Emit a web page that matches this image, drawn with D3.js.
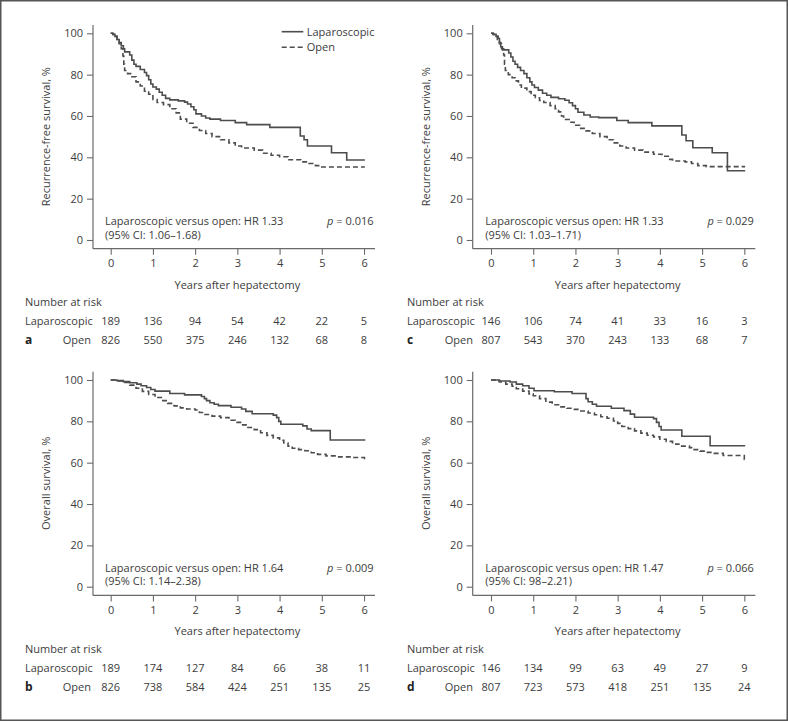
<!DOCTYPE html>
<html><head><meta charset="utf-8">
<script src="https://cdn.jsdelivr.net/npm/d3@7"></script>
<style>
body{margin:0;background:#fff;}
svg{display:block;font-family:"Open Sans","Noto Sans",sans-serif;}
</style></head>
<body><svg id="chart" width="788" height="722"></svg>
<script>
// ---------- DATA ----------
const years = [0,1,2,3,4,5,6];
const yTicks = [0,20,40,60,80,100];
const groups = ["Laparoscopic","Open"];

// Kaplan–Meier step points [years, survival %]
const lapA = [[0,100],[0.05,99.5],[0.1,98.5],[0.15,97],[0.2,95.5],[0.25,94],[0.3,92.5],[0.33,91],[0.45,89.5],[0.5,87],[0.55,85],[0.6,84],[0.7,82.5],[0.8,81],[0.85,79.5],[0.9,77.5],[0.95,75.5],[1.0,74],[1.08,73],[1.15,71.5],[1.22,70],[1.3,68.5],[1.4,67.8],[1.6,67.3],[1.75,66.7],[1.82,65.8],[1.9,64.5],[1.97,63],[2.02,61],[2.15,60],[2.25,59],[2.35,58.5],[2.6,57.8],[2.95,56.8],[3.22,55.8],[3.77,54.5],[4.49,50.3],[4.58,48.5],[4.66,45.5],[5.23,42.2],[5.59,38.7],[6.02,38.7]];
const openA = [[0,100],[0.05,99.5],[0.1,98.5],[0.15,97],[0.2,95],[0.25,92.5],[0.29,89],[0.31,85],[0.33,82],[0.4,80.5],[0.5,79],[0.6,76.5],[0.7,74.5],[0.8,72],[0.9,70.5],[1.0,68],[1.1,66.5],[1.25,65.5],[1.4,63.5],[1.55,61.5],[1.65,58.5],[1.8,56.5],[1.95,54.5],[2.1,53],[2.25,51.5],[2.4,50],[2.6,48.5],[2.8,47],[2.95,45.5],[3.1,44.5],[3.4,43.5],[3.6,42],[3.8,41],[4.0,40.3],[4.2,38.8],[4.5,37.8],[4.7,37],[4.85,36],[5.0,35.3],[6.02,35.3]];
const lapC = [[0,100],[0.05,99.5],[0.12,98.5],[0.17,97.5],[0.2,95.5],[0.23,93.5],[0.27,92],[0.42,90.5],[0.47,88.5],[0.52,86.5],[0.57,85],[0.63,83.5],[0.7,82],[0.78,80.5],[0.85,78.5],[0.92,76.5],[0.97,75],[1.03,73.8],[1.12,72.5],[1.22,71],[1.32,70],[1.42,69],[1.6,68.3],[1.75,67.6],[1.85,66.4],[1.93,65],[2.0,63.5],[2.06,61.8],[2.2,60.5],[2.35,59.5],[2.55,59.2],[2.98,57.8],[3.25,56.8],[3.81,55.2],[4.52,50.8],[4.62,48],[4.78,44.6],[5.24,42.2],[5.6,33.5],[6.02,33.5]];
const openC = [[0,100],[0.05,99.5],[0.1,98.5],[0.15,97],[0.2,95],[0.25,92.5],[0.3,89.5],[0.32,85],[0.34,82],[0.41,80],[0.5,78.5],[0.57,77],[0.65,75],[0.72,73.5],[0.85,71.8],[0.95,70],[1.05,68.8],[1.15,67.5],[1.25,66.5],[1.4,65],[1.52,63.5],[1.6,62],[1.67,60],[1.72,58.3],[1.85,57],[1.97,55.5],[2.1,54],[2.25,52.8],[2.4,51.5],[2.58,50],[2.75,48.5],[2.9,47],[3.05,45.5],[3.2,44.5],[3.4,43.5],[3.6,42.5],[3.85,41.5],[4.05,40.5],[4.2,39],[4.3,38.2],[4.6,37.8],[4.75,37],[4.9,36],[5.1,35.5],[6.02,35.5]];
const lapB = [[0,100],[0.15,99.7],[0.3,99.2],[0.45,98.7],[0.62,98],[0.72,97.2],[0.85,96.4],[0.95,95.4],[1.05,94.6],[1.4,93.5],[1.75,92.8],[2.15,92],[2.22,91],[2.27,90],[2.35,89],[2.45,88.3],[2.55,87.6],[2.85,86.8],[3.1,86],[3.2,84.8],[3.35,83.7],[3.85,83],[3.93,81.8],[3.98,80],[4.03,78.6],[4.55,77.8],[4.65,76.3],[4.75,75.5],[5.2,71],[6.03,71]];
const openB = [[0,100],[0.15,99.5],[0.3,98.8],[0.45,97.5],[0.6,96],[0.75,94.5],[0.9,93],[1.05,91.5],[1.2,90],[1.35,88.7],[1.5,87.5],[1.65,86.5],[1.8,86],[2.0,85.5],[2.1,84.3],[2.2,83.3],[2.4,82.5],[2.6,81.8],[2.8,80.5],[2.95,79.5],[3.1,78.3],[3.25,77],[3.4,76],[3.55,74.5],[3.7,73.2],[3.85,72],[4.0,70.8],[4.1,69.5],[4.2,68],[4.3,67],[4.45,66.3],[4.6,65.8],[4.75,64.8],[4.9,64],[5.1,63.3],[5.4,62.8],[5.7,62.5],[6.01,61.5],[6.03,61.5]];
const lapD = [[0,100],[0.2,99.5],[0.45,99],[0.6,98],[0.75,97.2],[0.9,96],[1.02,94.8],[1.5,94.3],[1.92,93.5],[2.25,91],[2.3,89.5],[2.4,88.3],[2.5,87.3],[2.85,86.3],[3.15,85.2],[3.3,83.5],[3.4,82],[3.85,81.3],[3.92,79.5],[3.98,77.5],[4.03,75.8],[4.52,72.8],[5.19,68.2],[6.02,68.2]];
const openD = [[0,100],[0.1,99.6],[0.2,99],[0.35,98],[0.5,97],[0.6,95.8],[0.75,94.6],[0.9,93.3],[1.0,92.4],[1.15,91],[1.3,89.3],[1.45,88],[1.6,87],[1.8,86.3],[1.95,85.8],[2.1,85],[2.3,84],[2.45,83.2],[2.6,82.2],[2.75,81.5],[2.9,80.2],[3.0,79],[3.1,77.5],[3.25,76.5],[3.4,75.4],[3.55,74.3],[3.7,73.3],[3.85,72.5],[4.0,71.3],[4.15,70.3],[4.3,69],[4.45,68],[4.7,67.3],[4.75,66.3],[4.95,65.6],[5.1,65],[5.27,64.5],[5.5,63.5],[6.0,61.6],[6.02,61.6]];

// Number at risk
const riskLapA = [189,136,94,54,42,22,5];
const riskOpenA = [826,550,375,246,132,68,8];
const riskLapC = [146,106,74,41,33,16,3];
const riskOpenC = [807,543,370,243,133,68,7];
const riskLapB = [189,174,127,84,66,38,11];
const riskOpenB = [826,738,584,424,251,135,25];
const riskLapD = [146,134,99,63,49,27,9];
const riskOpenD = [807,723,573,418,251,135,24];

const yTitles = ["Recurrence-free survival, %","Overall survival, %"];
const xTitle = "Years after hepatectomy";
const hrText = ["Laparoscopic versus open: HR 1.33","Laparoscopic versus open: HR 1.33","Laparoscopic versus open: HR 1.64","Laparoscopic versus open: HR 1.47"];
const ciText = ["(95% CI: 1.06–1.68)","(95% CI: 1.03–1.71)","(95% CI: 1.14–2.38)","(95% CI: 98–2.21)"];
const pText = ["0.016","0.029","0.009","0.066"];
const letters = ["a","c","b","d"];

// ---------- LAYOUT ----------
const panels = [
  {lap:lapA, open:openA, rl:riskLapA, ro:riskOpenA, ax:93, x0:110.7, y0:240, yt:0, left:25, legend:true},
  {lap:lapC, open:openC, rl:riskLapC, ro:riskOpenC, ax:472.7, x0:491, y0:240, yt:0, left:407, legend:false},
  {lap:lapB, open:openB, rl:riskLapB, ro:riskOpenB, ax:93, x0:110.7, y0:586.7, yt:1, left:25, legend:false},
  {lap:lapD, open:openD, rl:riskLapD, ro:riskOpenD, ax:472.7, x0:491, y0:586.7, yt:1, left:407, legend:false}
];
const ink = "#3c3c3c", lineCol = "#4d4d4d", axisCol = "#6a6a6a";
const fs = 11;
const svg = d3.select("#chart");

svg.append("rect").attr("x",0.75).attr("y",0.75).attr("width",786.5).attr("height",719.5)
  .attr("fill","none").attr("stroke","#555").attr("stroke-width",1.5);

panels.forEach((p,i)=>{
  const x = d3.scaleLinear().domain([0,6]).range([p.x0, p.x0 + 6*42.22]);
  const y = d3.scaleLinear().domain([0,100]).range([p.y0, p.y0 - 206.7]);
  const axY = p.y0 + 8.7, axTop = y(100) - 8.3, axRight = x(6) + 11;
  const g = svg.append("g");

  // axis lines
  g.append("line").attr("x1",p.ax).attr("x2",p.ax).attr("y1",axTop).attr("y2",axY)
    .attr("stroke",axisCol).attr("stroke-width",1.2);
  g.append("line").attr("x1",p.ax).attr("x2",axRight).attr("y1",axY).attr("y2",axY)
    .attr("stroke",axisCol).attr("stroke-width",1.2);

  const yAx = g.append("g").attr("transform",`translate(${p.ax},0)`)
    .call(d3.axisLeft(y).tickValues(yTicks).tickFormat(d3.format("d")).tickSize(6).tickPadding(4));
  const xAx = g.append("g").attr("transform",`translate(0,${axY})`)
    .call(d3.axisBottom(x).tickValues(years).tickFormat(d3.format("d")).tickSize(6).tickPadding(5));
  [yAx,xAx].forEach(a=>{
    a.select(".domain").remove();
    a.selectAll(".tick line").attr("stroke",axisCol).attr("stroke-width",1.1);
    a.selectAll(".tick text").attr("fill",ink).style("font-size",fs+"px").style("font-family","Open Sans");
  });

  // titles
  g.append("text").attr("x",(x(0)+x(6))/2).attr("y",axY+40).attr("text-anchor","middle")
    .attr("fill",ink).style("font-size",fs+"px").text(xTitle);
  g.append("text").attr("transform",`translate(${p.ax-43},${(y(0)+y(100))/2}) rotate(-90)`)
    .attr("text-anchor","middle").attr("fill",ink).style("font-size",fs+"px").text(yTitles[p.yt]);

  // curves
  const line = d3.line().x(d=>x(d[0])).y(d=>y(d[1])).curve(d3.curveStepAfter);
  g.append("path").datum(p.open).attr("d",line).attr("fill","none").attr("stroke",lineCol)
    .attr("stroke-width",1.6).attr("stroke-dasharray","5,3");
  g.append("path").datum(p.lap).attr("d",line).attr("fill","none").attr("stroke",lineCol)
    .attr("stroke-width",1.6);

  // annotation
  g.append("text").attr("x",x(0)-5.7).attr("y",y(0)-15).attr("fill",ink).style("font-size",fs+"px").text(hrText[i]);
  g.append("text").attr("x",x(0)-5.7).attr("y",y(0)-1.5).attr("fill",ink).style("font-size",fs+"px").text(ciText[i]);
  const pt = g.append("text").attr("x",x(6)+9.5).attr("y",y(0)-15).attr("text-anchor","end")
    .attr("fill",ink).style("font-size",fs+"px");
  pt.append("tspan").style("font-style","italic").text("p");
  pt.append("tspan").text(" = " + pText[i]);

  // legend
  if (p.legend){
    const lx = 281.7, ly1 = 31.7, ly2 = 47.3;
    g.append("line").attr("x1",lx).attr("x2",lx+21.6).attr("y1",ly1).attr("y2",ly1).attr("stroke",lineCol).attr("stroke-width",1.6);
    g.append("line").attr("x1",lx).attr("x2",lx+21.6).attr("y1",ly2).attr("y2",ly2).attr("stroke",lineCol).attr("stroke-width",1.6).attr("stroke-dasharray","5,3");
    g.append("text").attr("x",lx+25).attr("y",ly1+4).attr("fill",ink).style("font-size",fs+"px").text(groups[0]);
    g.append("text").attr("x",lx+25).attr("y",ly2+4).attr("fill",ink).style("font-size",fs+"px").text(groups[1]);
  }

  // risk table
  const r0 = axY + 57.6, r1 = r0 + 19, r2 = r1 + 19;
  g.append("text").attr("x",p.left).attr("y",r0).attr("fill",ink).style("font-size",fs+"px").text("Number at risk");
  g.append("text").attr("x",p.left).attr("y",r1).attr("fill",ink).style("font-size",fs+"px").text(groups[0]);
  g.append("text").attr("x",p.left+66).attr("y",r2).attr("text-anchor","end").attr("fill",ink).style("font-size",fs+"px").text(groups[1]);
  g.append("text").attr("x",p.left).attr("y",r2).attr("fill","#222").style("font-size","12px").style("font-weight","bold").text(letters[i]);
  g.selectAll(".rl").data(p.rl).join("text").attr("x",(d,k)=>x(years[k])).attr("y",r1)
    .attr("text-anchor","middle").attr("fill",ink).style("font-size",fs+"px").text(d=>d);
  g.selectAll(".ro").data(p.ro).join("text").attr("x",(d,k)=>x(years[k])).attr("y",r2)
    .attr("text-anchor","middle").attr("fill",ink).style("font-size",fs+"px").text(d=>d);
});
</script></body></html>
